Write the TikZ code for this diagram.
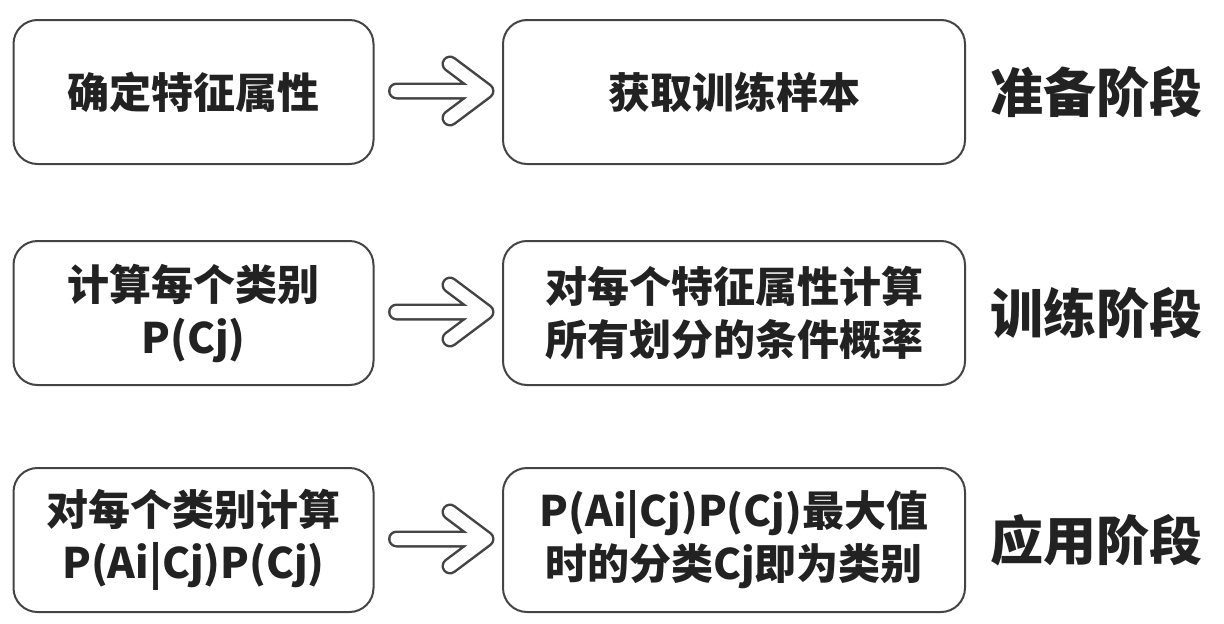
\documentclass[tikz,border=0pt]{standalone}
\usepackage{fontspec}
\newfontfamily\cjk{Noto Sans CJK SC}
\usetikzlibrary{calc}
\definecolor{ink}{HTML}{222222}
\definecolor{edge}{HTML}{444444}
\begin{document}
\begin{tikzpicture}[x=1pt,y=-1pt,
  stepbox/.style={draw=edge,line width=2pt,rounded corners=24pt,minimum height=144pt,
    align=center,text=ink,font=\cjk\bfseries\fontsize{42}{53}\selectfont,inner sep=0pt},
  leftbox/.style={stepbox,minimum width=360pt},
  rightbox/.style={stepbox,minimum width=462pt},
  stage/.style={text=ink,font=\cjk\bfseries\fontsize{53}{60}\selectfont,inner sep=0pt,anchor=west},
  arrowout/.style={draw=edge,line width=17pt,line cap=round,line join=round},
  arrowin/.style={draw=white,line width=12pt,line cap=round,line join=round}]
\useasboundingbox (0,0) rectangle (1224,624);
\fill[white] (0,0) rectangle (1224,624);

\node[leftbox]  (a1) at (193.5,92) {确定特征属性};
\node[rightbox] (b1) at (734,92) {获取训练样本};
\node[stage]    (s1) at (990,92) {准备阶段};

\node[leftbox]  (a2) at (193.5,313) {计算每个类别\\P(Cj)};
\node[rightbox] (b2) at (734,313) {对每个特征属性计算\\所有划分的条件概率};
\node[stage]    (s2) at (990,313) {训练阶段};

\node[leftbox]  (a3) at (193.5,540) {对每个类别计算\\P(Ai|Cj)P(Cj)};
\node[rightbox] (b3) at (734,540) {P(Ai|Cj)P(Cj)最大值\\时的分类Cj即为类别};
\node[stage]    (s3) at (990,540) {应用阶段};

\foreach \i in {1,2,3}{
  \coordinate (t\i) at ($(b\i.west)+(-16,-1)$);
  \coordinate (f\i) at ($(a\i.east)+(22,-1)$);
  \path[arrowout] (f\i) -- (t\i) ($(t\i)+(-36,-27)$) -- (t\i) -- ($(t\i)+(-36,27)$);
  \path[arrowin]  (f\i) -- (t\i) ($(t\i)+(-36,-27)$) -- (t\i) -- ($(t\i)+(-36,27)$);
}
\end{tikzpicture}
\end{document}
